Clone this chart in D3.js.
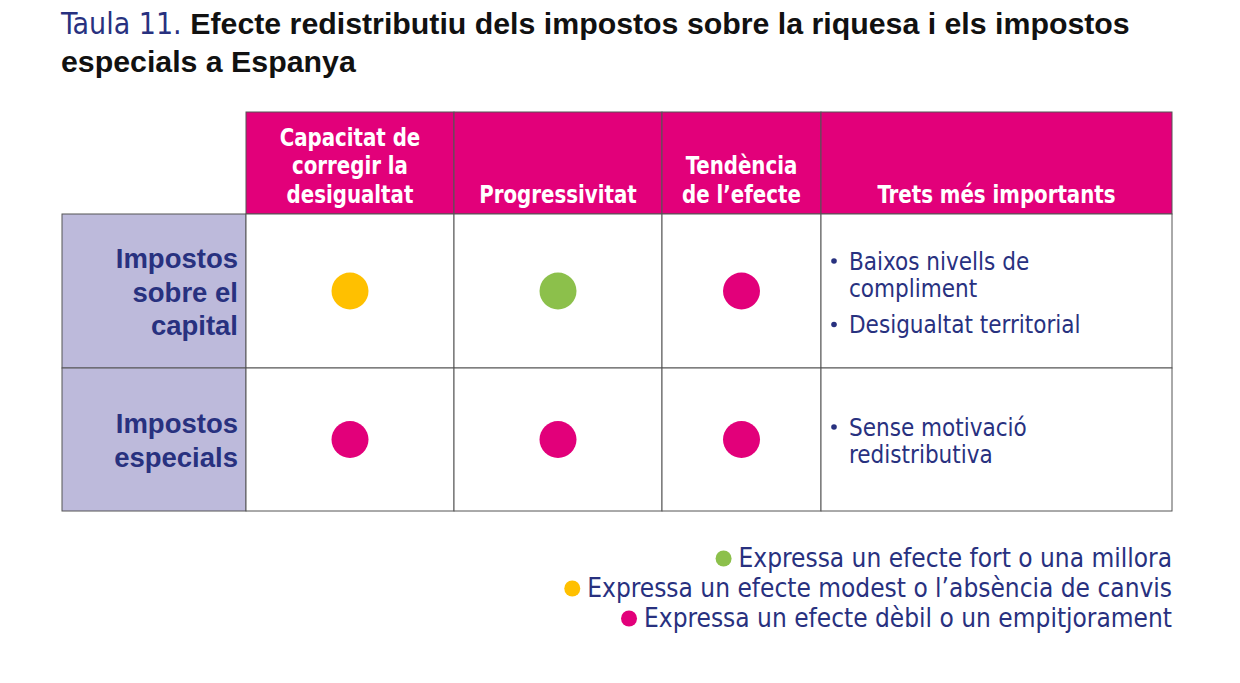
<!DOCTYPE html>
<html>
<head>
<meta charset="utf-8">
<script src="https://cdn.jsdelivr.net/npm/d3@7"></script>
<style>
  body { margin: 0; background: #fff; }
  svg { display: block; }
</style>
</head>
<body>
<div id="chart"></div>
<script>
// taula 11 - efecte redistributiu
const titleNum = "Taula 11.";
const titleLines = ["Efecte redistributiu dels impostos sobre la riquesa i els impostos", "especials a Espanya"];

const columns = [
  ["Capacitat de", "corregir la", "desigualtat"],
  ["Progressivitat"],
  ["Tendència", "de l’efecte"],
  ["Trets més importants"]
];
const rows = [
  ["Impostos", "sobre el", "capital"],
  ["Impostos", "especials"]
];
// rating per row / column: fort, modest, debil
const ratings = [
  ["modest", "fort", "debil"],
  ["debil", "debil", "debil"]
];
const traits = [
  [["Baixos nivells de", "compliment"], ["Desigualtat territorial"]],
  [["Sense motivació", "redistributiva"]]
];
const legendKeys = ["fort", "modest", "debil"];
const legendLabels = [
  "Expressa un efecte fort o una millora",
  "Expressa un efecte modest o l’absència de canvis",
  "Expressa un efecte dèbil o un empitjorament"
];

const width = 1240, height = 683;
const navy = "#28317f", magenta = "#e2007a", lilac = "#bdbadb", border = "#555";
const condensed = "'DejaVu Sans Condensed', 'Liberation Sans Narrow', sans-serif";
const sans = "'Liberation Sans', Arial, sans-serif";

const color = d3.scaleOrdinal(legendKeys, ["#8cc04b", "#ffc000", magenta]);

// squeeze text horizontally around its anchor x
function squeeze(sel, s) {
  sel.attr("transform", function() {
    const x = +d3.select(this).attr("x");
    return `translate(${x},0) scale(${s},1) translate(${-x},0)`;
  });
}

// table layout
const colWidths = [184, 208, 208, 159, 351];
const colEdges = [62, ...d3.cumsum(colWidths).map(v => 62 + v)];
const rowEdges = [112, 214, 368, 511];

const svg = d3.select("#chart").append("svg")
  .attr("width", width)
  .attr("height", height)
  .attr("viewBox", [0, 0, width, height]);

// title
const t1 = svg.append("text").attr("x", 61).attr("y", 34);
t1.append("tspan").attr("fill", navy).attr("font-family", condensed).attr("font-size", 30).text(titleNum + " ");
t1.append("tspan").attr("fill", "#111").attr("font-family", sans).attr("font-weight", "bold").attr("font-size", 30.3).text(titleLines[0]);
svg.append("text").attr("x", 61).attr("y", 72)
  .attr("fill", "#111").attr("font-family", sans).attr("font-weight", "bold").attr("font-size", 30.3)
  .text(titleLines[1]);

// header cells
const head = svg.append("g");
head.selectAll("rect").data(columns).join("rect")
  .attr("x", (d, i) => colEdges[i + 1])
  .attr("y", rowEdges[0])
  .attr("width", (d, i) => colWidths[i + 1])
  .attr("height", rowEdges[1] - rowEdges[0])
  .attr("fill", magenta)
  .attr("stroke", border).attr("stroke-width", 1);

const headText = head.selectAll("text").data(columns).join("text")
  .attr("x", (d, i) => colEdges[i + 1] + colWidths[i + 1] / 2)
  .attr("text-anchor", "middle")
  .attr("fill", "#fff")
  .attr("font-family", condensed)
  .attr("font-weight", "bold")
  .attr("font-size", 25)
  .each(function(d) {
    d3.select(this).selectAll("tspan").data(d).join("tspan")
      .attr("x", d3.select(this).attr("x"))
      .attr("y", (s, j) => 203 - (d.length - 1 - j) * 28.5)
      .text(s => s);
  });
squeeze(headText, 0.88);

// row header + body cells
const body = svg.append("g");
rows.forEach((r, ri) => {
  const y0 = rowEdges[ri + 1], y1 = rowEdges[ri + 2];
  body.append("rect")
    .attr("x", colEdges[0]).attr("y", y0)
    .attr("width", colWidths[0]).attr("height", y1 - y0)
    .attr("fill", lilac).attr("stroke", border);
  for (let c = 1; c < colWidths.length; c++) {
    body.append("rect")
      .attr("x", colEdges[c]).attr("y", y0)
      .attr("width", colWidths[c]).attr("height", y1 - y0)
      .attr("fill", "#fff").attr("stroke", border);
  }
  const mid = (y0 + y1) / 2;
  body.append("text")
    .attr("text-anchor", "end")
    .attr("fill", navy)
    .attr("font-family", sans)
    .attr("font-weight", "bold")
    .attr("font-size", 27.5)
    .selectAll("tspan").data(r).join("tspan")
    .attr("x", colEdges[1] - 8)
    .attr("y", (s, j) => mid + 10.5 + (j - (r.length - 1) / 2) * 33.8)
    .text(s => s);
});

// dots
svg.append("g").selectAll("g").data(ratings).join("g")
  .each(function(row, ri) {
    const cy = (rowEdges[ri + 1] + rowEdges[ri + 2]) / 2;
    d3.select(this).selectAll("circle").data(row).join("circle")
      .attr("cx", (d, ci) => colEdges[ci + 1] + colWidths[ci + 1] / 2)
      .attr("cy", cy)
      .attr("r", 18.5)
      .attr("fill", d => color(d));
  });

// traits bullets
const tx = colEdges[4] + 13;
traits.forEach((items, ri) => {
  const g = svg.append("g")
    .attr("font-family", condensed)
    .attr("font-size", 25)
    .attr("fill", navy);
  let y = ri === 0 ? 270 : 436;
  items.forEach(item => {
    g.append("circle").attr("cx", tx).attr("cy", y - 9).attr("r", 2.8).attr("fill", navy);
    item.forEach(line => {
      g.append("text").attr("x", tx + 15).attr("y", y).text(line)
        .call(squeeze, 0.96);
      y += 27.5;
    });
    y += 8.5;
  });
});

// legend
const legend = svg.append("g")
  .attr("font-family", condensed)
  .attr("font-size", 26)
  .attr("fill", navy);
const lx = colEdges[colEdges.length - 1];
legendKeys.forEach((k, i) => {
  const y = 567 + i * 30;
  const txt = legend.append("text")
    .attr("x", lx).attr("y", y)
    .attr("text-anchor", "end")
    .text(legendLabels[i]);
  const w = txt.node().getComputedTextLength();
  legend.append("circle")
    .attr("cx", lx - w - 15)
    .attr("cy", y - 8.5)
    .attr("r", 8)
    .attr("fill", color(k));
});
</script>
</body>
</html>
